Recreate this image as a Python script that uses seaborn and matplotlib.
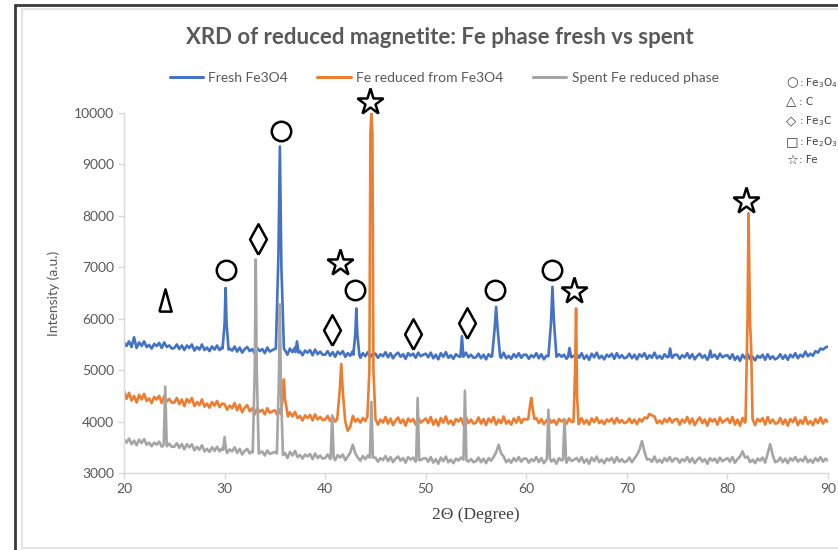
import numpy as np
import pandas as pd
import matplotlib
matplotlib.use("Agg")
import matplotlib.pyplot as plt
from matplotlib.lines import Line2D
import seaborn as sns

# ---------------- data ----------------
grid_start, grid_stop, grid_step = 20.0, 90.0, 0.25

fresh_base = [
    5540, 5470, 5560, 5450, 5640, 5430, 5540, 5470, 5560, 5450, 5490, 5420, 5510, 5470, 5530, 5430, 5540, 5450, 5480, 5420,
    5430, 5500, 5410, 5480, 5390, 5480, 5430, 5500, 5380, 5450, 5400, 5500, 5390, 5440, 5370, 5460, 5400, 5480, 5390, 5450,
    5430, 5350, 5420, 5380, 5460, 5360, 5440, 5340, 5410, 5450, 5370, 5410, 5320, 5430, 5370, 5410, 5330, 5440, 5360, 5390,
    5410, 5340, 5430, 5320, 5390, 5300, 5420, 5350, 5440, 5320, 5370, 5290, 5380, 5340, 5390, 5290, 5400, 5310, 5360, 5300,
    5300, 5370, 5280, 5350, 5260, 5360, 5310, 5370, 5260, 5330, 5280, 5370, 5260, 5310, 5240, 5330, 5270, 5350, 5260, 5320,
    5320, 5240, 5310, 5270, 5350, 5250, 5330, 5230, 5300, 5340, 5260, 5310, 5220, 5330, 5280, 5320, 5240, 5340, 5270, 5300,
    5320, 5250, 5340, 5230, 5300, 5210, 5330, 5260, 5350, 5240, 5290, 5220, 5310, 5270, 5330, 5230, 5340, 5250, 5300, 5240,
    5250, 5320, 5230, 5300, 5210, 5310, 5260, 5330, 5220, 5290, 5240, 5340, 5230, 5280, 5220, 5310, 5250, 5330, 5240, 5300,
    5300, 5220, 5290, 5250, 5330, 5230, 5310, 5210, 5280, 5320, 5240, 5290, 5200, 5310, 5260, 5300, 5220, 5320, 5250, 5280,
    5310, 5240, 5330, 5220, 5290, 5200, 5320, 5250, 5340, 5230, 5280, 5210, 5300, 5260, 5320, 5220, 5330, 5240, 5290, 5230,
    5250, 5320, 5230, 5300, 5210, 5310, 5260, 5330, 5220, 5290, 5240, 5340, 5230, 5280, 5220, 5310, 5250, 5330, 5240, 5300,
    5300, 5220, 5290, 5250, 5330, 5230, 5310, 5210, 5280, 5320, 5240, 5290, 5200, 5310, 5260, 5300, 5220, 5320, 5250, 5280,
    5290, 5220, 5310, 5200, 5270, 5180, 5300, 5230, 5320, 5210, 5260, 5190, 5280, 5240, 5300, 5200, 5310, 5220, 5270, 5210,
    5240, 5310, 5220, 5290, 5200, 5300, 5250, 5330, 5230, 5300, 5260, 5360, 5270, 5320, 5280, 5370, 5340, 5420, 5400, 5440,
    5460,
]
fresh_peak_x = [29.8, 30.0, 30.1, 30.2, 30.4,
                35.1, 35.35, 35.5, 35.65, 35.9,
                37.05, 37.2, 37.35,
                42.8, 43.0, 43.1, 43.2, 43.4,
                53.45, 53.6, 53.75,
                56.6, 56.85, 57.0, 57.15, 57.4,
                62.2, 62.45, 62.6, 62.75, 63.0,
                64.15, 64.3, 64.45,
                74.15, 74.3, 74.45,
                78.15, 78.3, 78.45]
fresh_peak_y = [5420, 5900, 6600, 5900, 5400,
                5420, 7200, 9350, 7000, 5420,
                5350, 5560, 5340,
                5300, 5700, 6200, 5700, 5300,
                5260, 5660, 5260,
                5270, 5800, 6230, 5800, 5260,
                5270, 5900, 6620, 5950, 5260,
                5260, 5430, 5260,
                5260, 5420, 5260,
                5250, 5380, 5250]

reduced_base = [
    4600, 4440, 4560, 4410, 4500, 4370, 4520, 4430, 4540, 4400, 4450, 4360, 4480, 4430, 4500, 4360, 4500, 4390, 4440, 4370,
    4370, 4460, 4340, 4430, 4300, 4440, 4370, 4460, 4300, 4380, 4320, 4430, 4290, 4350, 4270, 4380, 4310, 4400, 4280, 4350,
    4340, 4230, 4310, 4260, 4360, 4220, 4330, 4180, 4270, 4320, 4200, 4260, 4140, 4260, 4190, 4230, 4140, 4260, 4170, 4200,
    4220, 4130, 4240, 4100, 4170, 4060, 4180, 4100, 4190, 4070, 4110, 4020, 4120, 4070, 4130, 4020, 4140, 4040, 4090, 4030,
    4040, 4110, 4010, 4090, 4000, 4100, 4050, 4110, 4000, 3820, 3900, 4110, 4000, 4050, 3980, 4070, 4010, 4090, 4000, 4060,
    4050, 3940, 4040, 3980, 4090, 3960, 4060, 3930, 4020, 4080, 3970, 4040, 3920, 4060, 4000, 4050, 3940, 4080, 3980, 4020,
    4060, 3970, 4090, 3940, 4040, 3920, 4070, 3980, 4100, 3960, 4020, 3930, 4050, 4000, 4070, 3940, 4090, 3970, 4040, 3960,
    3980, 4080, 3960, 4050, 3930, 4060, 3990, 4090, 3940, 4040, 3970, 4100, 3960, 4020, 3940, 4060, 3980, 4090, 3970, 4050,
    4040, 3960, 4030, 3990, 4070, 3970, 4050, 3950, 4020, 4060, 3980, 4030, 3940, 4050, 4000, 4040, 3960, 4060, 3990, 3880,
    3900, 3960, 4070, 3960, 4030, 3940, 4060, 3990, 4080, 3970, 4020, 3950, 4040, 4000, 4060, 3960, 4070, 3980, 4030, 3970,
    3990, 4060, 3970, 4040, 3950, 4050, 4000, 4080, 4060, 4150, 4120, 4100, 3970, 4020, 3960, 4050, 3990, 4070, 3980, 4040,
    4050, 3940, 4040, 3980, 4090, 3960, 4060, 3930, 4020, 4080, 3970, 4040, 3920, 4060, 4000, 4050, 3940, 4080, 3980, 4020,
    4060, 3970, 4090, 3940, 4040, 3920, 4070, 3980, 4100, 3960, 4020, 3930, 4050, 4000, 4070, 3940, 4090, 3970, 4040, 3960,
    3970, 4070, 3950, 4040, 3920, 4050, 3990, 4080, 3930, 4030, 3960, 4090, 3950, 4010, 3930, 4050, 3970, 4080, 3960, 4040,
    3990,
]
reduced_peak_x = [35.6, 35.8, 35.9, 36.0, 36.3,
                  41.2, 41.45, 41.6, 41.75, 42.0,
                  44.2, 44.4, 44.5, 44.6, 44.7, 44.8, 45.0,
                  60.2, 60.4, 60.5, 60.6, 60.8,
                  64.7, 64.85, 64.95, 65.05, 65.2,
                  81.8, 82.0, 82.1, 82.25, 82.35, 82.5]
reduced_peak_y = [4150, 4500, 4820, 4450, 4100,
                  4050, 4600, 5120, 4600, 4000,
                  4100, 5000, 9600, 10000, 9600, 5000, 4050,
                  4050, 4350, 4460, 4300, 4050,
                  4000, 5000, 6200, 4500, 3950,
                  4000, 6000, 8050, 5900, 5500, 4050]

spent_base = [
    3660, 3590, 3670, 3560, 3630, 3540, 3650, 3580, 3660, 3550, 3590, 3520, 3590, 3550, 3610, 3510, 3600, 3530, 3570, 3510,
    3510, 3580, 3490, 3560, 3460, 3560, 3500, 3560, 3440, 3510, 3450, 3540, 3420, 3470, 3410, 3500, 3430, 3510, 3420, 3480,
    3470, 3390, 3460, 3420, 3500, 3390, 3470, 3360, 3430, 3470, 3380, 3430, 3340, 3450, 3390, 3420, 3340, 3440, 3370, 3390,
    3410, 3340, 3430, 3320, 3390, 3290, 3410, 3340, 3430, 3310, 3350, 3280, 3360, 3320, 3370, 3270, 3380, 3290, 3340, 3280,
    3290, 3360, 3270, 3340, 3250, 3350, 3300, 3360, 3250, 3320, 3400, 3550, 3380, 3300, 3240, 3330, 3270, 3340, 3250, 3310,
    3300, 3220, 3290, 3250, 3330, 3230, 3310, 3210, 3280, 3320, 3240, 3290, 3200, 3310, 3260, 3300, 3220, 3320, 3250, 3280,
    3290, 3220, 3310, 3200, 3270, 3180, 3300, 3230, 3320, 3210, 3260, 3190, 3280, 3240, 3300, 3200, 3310, 3220, 3270, 3210,
    3230, 3300, 3210, 3280, 3190, 3290, 3240, 3310, 3400, 3550, 3380, 3320, 3210, 3260, 3200, 3290, 3230, 3310, 3220, 3280,
    3280, 3200, 3270, 3230, 3310, 3210, 3290, 3190, 3260, 3300, 3220, 3270, 3180, 3290, 3240, 3280, 3200, 3300, 3230, 3260,
    3290, 3220, 3310, 3200, 3270, 3180, 3300, 3230, 3320, 3210, 3260, 3190, 3280, 3240, 3300, 3200, 3310, 3220, 3270, 3210,
    3230, 3300, 3210, 3280, 3350, 3450, 3620, 3420, 3260, 3270, 3220, 3320, 3210, 3260, 3200, 3290, 3230, 3310, 3220, 3280,
    3280, 3200, 3270, 3230, 3310, 3210, 3290, 3190, 3260, 3300, 3220, 3270, 3180, 3290, 3240, 3280, 3200, 3300, 3230, 3260,
    3290, 3220, 3310, 3200, 3270, 3320, 3420, 3300, 3320, 3210, 3260, 3190, 3280, 3240, 3300, 3200, 3380, 3560, 3350, 3210,
    3230, 3300, 3210, 3280, 3190, 3290, 3240, 3310, 3220, 3270, 3230, 3320, 3210, 3260, 3200, 3290, 3230, 3310, 3220, 3280,
    3240,
]
spent_peak_x = [23.95, 24.1, 24.25,
                29.85, 30.0, 30.15,
                32.8, 33.0, 33.1, 33.2, 33.4,
                35.2, 35.4, 35.5, 35.6, 35.8,
                40.55, 40.7, 40.85,
                44.45, 44.6, 44.75,
                49.05, 49.2, 49.35,
                53.75, 53.9, 54.05,
                62.05, 62.2, 62.35,
                63.65, 63.8, 63.95]
spent_peak_y = [3550, 4680, 3520,
                3450, 3700, 3450,
                3400, 5000, 7150, 5000, 3380,
                3380, 4800, 6280, 4700, 3350,
                3300, 4120, 3300,
                3300, 4380, 3300,
                3250, 4460, 3250,
                3260, 4600, 3250,
                3280, 4230, 3280,
                3260, 4050, 3260]

series_names = ["Fresh Fe3O4", "Fe reduced from Fe3O4", "Spent Fe reduced phase"]
series_colors = ["#4472C4", "#ED7D31", "#A5A5A5"]

# phase markers: (x, y)
circle_x = [30.1, 35.6, 43.0, 56.9, 62.6]
circle_y = [6950, 9650, 6560, 6560, 6950]
triangle_x = [24.1]
triangle_y = [6360]
diamond_x = [33.3, 40.7, 48.7, 54.1]
diamond_y = [7550, 5780, 5700, 5910]
star_x = [44.5, 41.5, 64.7, 81.8]
star_y = [10210, 7080, 6540, 8290]

key_symbols = ["○", "△", "◇", "□", "☆"]
key_labels = [": Fe$_3$O$_4$", ": C", ": Fe$_3$C", ": Fe$_2$O$_3$", ": Fe"]

# ---------------- build frames ----------------
grid_x = np.round(np.arange(grid_start, grid_stop + grid_step / 2, grid_step), 4)
for arr in (fresh_base, reduced_base, spent_base):
    if len(arr) != len(grid_x):
        raise ValueError(f"baseline length {len(arr)} != {len(grid_x)}")


def build(base, px, py):
    bx = np.asarray(grid_x)
    by = np.asarray(base, dtype=float)
    px = np.asarray(px)
    py = np.asarray(py, dtype=float)
    keep = np.ones(len(bx), bool)
    starts = [0] + [i for i in range(1, len(px)) if px[i] - px[i - 1] > 0.6]
    ends = starts[1:] + [len(px)]
    for s, e in zip(starts, ends):
        lo, hi = px[s], px[e - 1]
        keep &= ~((bx >= lo - 1e-9) & (bx <= hi + 1e-9))
    x = np.concatenate([bx[keep], px])
    y = np.concatenate([by[keep], py])
    order = np.argsort(x, kind="stable")
    return x[order], y[order]


frames = []
for name, (b, px, py) in zip(series_names, [(fresh_base, fresh_peak_x, fresh_peak_y),
                                            (reduced_base, reduced_peak_x, reduced_peak_y),
                                            (spent_base, spent_peak_x, spent_peak_y)]):
    x, y = build(b, px, py)
    frames.append(pd.DataFrame({"two_theta": x, "intensity": y, "series": name}))
df = pd.concat(frames, ignore_index=True)

# ---------------- plot ----------------
sns.set_theme(style="white")
plt.rcParams["font.family"] = ["Lato", "DejaVu Sans"]

fig = plt.figure(figsize=(8.38, 5.5), dpi=100)
ax = fig.add_axes([124 / 838, 1 - 473 / 550, (828 - 124) / 838, (473 - 113) / 550])

sns.lineplot(data=df, x="two_theta", y="intensity", hue="series",
             hue_order=series_names, palette=series_colors,
             estimator=None, sort=False, linewidth=1.9, ax=ax, legend=True)

ax.set_xlim(20, 90)
ax.set_ylim(3000, 10000)
ax.set_xticks(range(20, 91, 10))
ax.set_yticks(range(3000, 10001, 1000))

tick_col = "#595959"
for side in ["top", "right"]:
    ax.spines[side].set_visible(False)
for side in ["left", "bottom"]:
    ax.spines[side].set_color("#D9D9D9")
    ax.spines[side].set_linewidth(1.0)
ax.tick_params(axis="both", which="both", direction="out", length=4, width=1,
               color="#D9D9D9", labelcolor=tick_col, labelsize=10, pad=3,
               left=True, bottom=True)
ax.grid(False)

ax.set_xlabel("2Θ (Degree)", family=["Liberation Serif", "DejaVu Serif"],
              fontsize=12.5, color="#404040", labelpad=9)
ax.set_ylabel("Intensity (a.u.)", fontsize=10, color=tick_col, labelpad=10)

# markers
mk = dict(color="black", markerfacecolor="white", markeredgewidth=1.8,
          linestyle="none", clip_on=False, zorder=10)
ax.plot(circle_x, circle_y, marker="o", markersize=14, **mk)
tri = [(-0.55, -1.0), (0.55, -1.0), (0.0, 1.0), (-0.55, -1.0)]
ax.plot(triangle_x, triangle_y, marker=tri, markersize=16, **mk)
dia = [(0.0, -1.0), (0.55, 0.0), (0.0, 1.0), (-0.55, 0.0), (0.0, -1.0)]
ax.plot(diamond_x, diamond_y, marker=dia, markersize=22, **mk)
ax.plot(star_x, star_y, marker="*", markersize=20, **mk)

# legend
handles, labels = ax.get_legend_handles_labels()
leg = ax.legend(handles, labels, loc="center", bbox_to_anchor=(444 / 838, 1 - 78 / 550),
                bbox_transform=fig.transFigure, ncol=3, frameon=False,
                fontsize=10, handlelength=2.4, columnspacing=2.1, handletextpad=0.4)
for t in leg.get_texts():
    t.set_color(tick_col)
for h in leg.get_lines():
    h.set_linewidth(2.2)

# title
fig.text(440 / 838, 1 - 38 / 550, "XRD of reduced magnetite: Fe phase fresh vs spent",
         ha="center", va="center", fontsize=16, fontweight="bold", color=tick_col)

# phase key
key_y = [83, 102, 121, 142, 160]
for sym, lab, yy in zip(key_symbols, key_labels, key_y):
    fig.text(786 / 838, 1 - yy / 550, sym, ha="left", va="center", fontsize=9.5,
             color="#404040", family=["DejaVu Sans"])
    fig.text(799 / 838, 1 - yy / 550, lab, ha="left", va="center", fontsize=7.5,
             color="#404040", family=["DejaVu Sans"])

# chart frame
fig.add_artist(Line2D([15 / 838, 15 / 838], [0, 1 - 5 / 550], transform=fig.transFigure,
                      color="#3A3A3A", lw=2.0))
fig.add_artist(Line2D([15 / 838, 1], [1 - 5 / 550, 1 - 5 / 550], transform=fig.transFigure,
                      color="#3A3A3A", lw=2.0))
fig.add_artist(Line2D([22 / 838, 22 / 838], [1 - 548 / 550, 1 - 9 / 550], transform=fig.transFigure,
                      color="#E3E3E3", lw=1.5))
fig.add_artist(Line2D([22 / 838, 1], [1 - 9 / 550, 1 - 9 / 550], transform=fig.transFigure,
                      color="#E3E3E3", lw=1.5))
fig.add_artist(Line2D([22 / 838, 1], [1 - 548 / 550, 1 - 548 / 550], transform=fig.transFigure,
                      color="#E3E3E3", lw=1.5))

fig.savefig("out.png", dpi=100)
